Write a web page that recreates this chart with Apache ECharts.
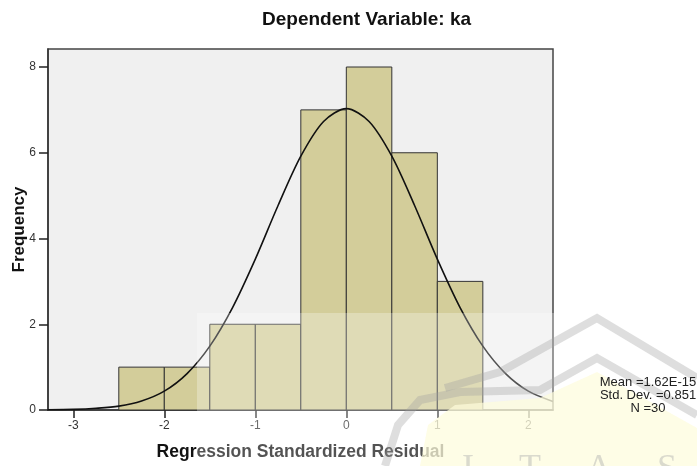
<!DOCTYPE html>
<html>
<head>
<meta charset="utf-8">
<script src="https://cdn.jsdelivr.net/npm/echarts@6/dist/echarts.min.js"></script>
<style>
  html, body { margin: 0; padding: 0; background: #fff; }
  #main { width: 697px; height: 466px; }
</style>
</head>
<body>
<div id="main"></div>
<script>
// histogram bins (regression standardized residual), width 0.5
var binStart = [-2.5, -2, -1.5, -1, -0.5, 0, 0.5, 1];
var binEnd   = [-2, -1.5, -1, -0.5, 0, 0.5, 1, 1.5];
var counts   = [1, 1, 2, 2, 7, 8, 6, 3];

// normal curve
var curveX = [-3.28, -3, -2.75, -2.5, -2.25, -2, -1.75, -1.5, -1.25, -1, -0.75, -0.5, -0.25, 0,
              0.25, 0.5, 0.75, 1, 1.25, 1.5, 1.75, 2, 2.27];
var curveY = [0.005, 0.014, 0.04, 0.09, 0.21, 0.44, 0.85, 1.49, 2.39, 3.52, 4.77, 5.92, 6.73, 7.03,
              6.73, 5.92, 4.77, 3.52, 2.39, 1.49, 0.85, 0.44, 0.2];

var xTicks = [-3, -2, -1, 0, 1, 2];
var yTicks = [0, 2, 4, 6, 8];
var statLines = ['Mean =1.62E-15', 'Std. Dev. =0.851', 'N =30'];

var chart = echarts.init(document.getElementById('main'));

var barData = [];
for (var i = 0; i < counts.length; i++) {
    barData.push([binStart[i], binEnd[i], counts[i]]);
}
var lineData = [];
for (var j = 0; j < curveX.length; j++) {
    lineData.push([curveX[j], curveY[j]]);
}

var font = '"Liberation Sans", Arial, sans-serif';

var option = {
    animation: false,
    title: {
        text: 'Dependent Variable: ka',
        left: 257,
        top: 5,
        textStyle: { fontFamily: font, fontSize: 19, fontWeight: 'bold', color: '#111' }
    },
    grid: {
        left: 48, right: 144, top: 49, bottom: 56,
        outerBoundsMode: 'none',
        containLabel: false,
        show: true,
        backgroundColor: '#f0f0f0',
        borderColor: '#444',
        borderWidth: 1.5
    },
    xAxis: {
        type: 'value',
        min: -3.278,
        max: 2.271,
        name: 'Regression Standardized Residual',
        nameLocation: 'middle',
        nameGap: 33,
        nameTextStyle: { fontFamily: font, fontSize: 17.5, fontWeight: 'bold', color: '#111' },
        splitLine: { show: false },
        axisLine: { show: true, onZero: false, lineStyle: { color: '#333', width: 1.5 } },
        axisTick: { show: true, length: 8, customValues: xTicks, lineStyle: { color: '#222', width: 1.5 } },
        axisLabel: { customValues: xTicks, margin: 10, fontFamily: font, fontSize: 12, color: '#333' }
    },
    yAxis: {
        type: 'value',
        min: 0,
        max: 8.42,
        name: 'Frequency',
        nameLocation: 'middle',
        nameGap: 20,
        nameMoveOverlap: false,
        nameTextStyle: { fontFamily: font, fontSize: 17, fontWeight: 'bold', color: '#111' },
        splitLine: { show: false },
        axisLine: { show: true, onZero: false, lineStyle: { color: '#333', width: 1.5 } },
        axisTick: { show: true, length: 9, customValues: yTicks, lineStyle: { color: '#222', width: 1.5 } },
        axisLabel: { customValues: yTicks, margin: 12, fontFamily: font, fontSize: 12, color: '#333' }
    },
    series: [
        {
            type: 'custom',
            data: barData,
            renderItem: function (params, api) {
                var p0 = api.coord([api.value(0), api.value(2)]);
                var p1 = api.coord([api.value(1), 0]);
                return {
                    type: 'rect',
                    shape: { x: p0[0], y: p0[1], width: p1[0] - p0[0], height: p1[1] - p0[1] },
                    style: { fill: '#d3cd9a', stroke: '#333', lineWidth: 1 }
                };
            },
            z: 2
        },
        {
            type: 'line',
            data: lineData,
            smooth: 0.3,
            showSymbol: false,
            lineStyle: { color: '#111', width: 1.6 },
            z: 3
        }
    ],
    graphic: [
        // watermark: pale yellow field
        {
            type: 'polygon', z: 20, silent: true,
            shape: { points: [[420, 466], [428, 425], [455, 405], [540, 398], [597, 372], [697, 428], [697, 466]] },
            style: { fill: 'rgba(253,251,205,0.7)' }
        },
        // translucent white block
        {
            type: 'rect', z: 21, silent: true,
            shape: { x: 197, y: 313, width: 500, height: 153 },
            style: { fill: 'rgba(255,255,255,0.28)' }
        },
        // grey arches
        {
            type: 'polyline', z: 22, silent: true,
            shape: { points: [[445, 388], [500, 372], [597, 318], [697, 378]] },
            style: { stroke: 'rgba(160,160,160,0.35)', lineWidth: 8, fill: null }
        },
        {
            type: 'polyline', z: 22, silent: true,
            shape: { points: [[385, 466], [398, 425], [420, 400], [460, 392], [540, 390], [597, 358], [697, 415]] },
            style: { stroke: 'rgba(160,160,160,0.35)', lineWidth: 8, fill: null }
        },
        {
            type: 'text', left: 462, top: 452, z: 23, silent: true,
            style: { text: 'I     T     A     S', fill: 'rgba(175,175,175,0.45)', font: '36px "Liberation Serif", serif' }
        },
        // stats box
        {
            type: 'text', x: 648, y: 376, z: 30,
            style: { text: statLines.join('\n'), fill: '#222', font: '13px ' + font, align: 'center', lineHeight: 13 }
        }
    ]
};

chart.setOption(option);
</script>
</body>
</html>
